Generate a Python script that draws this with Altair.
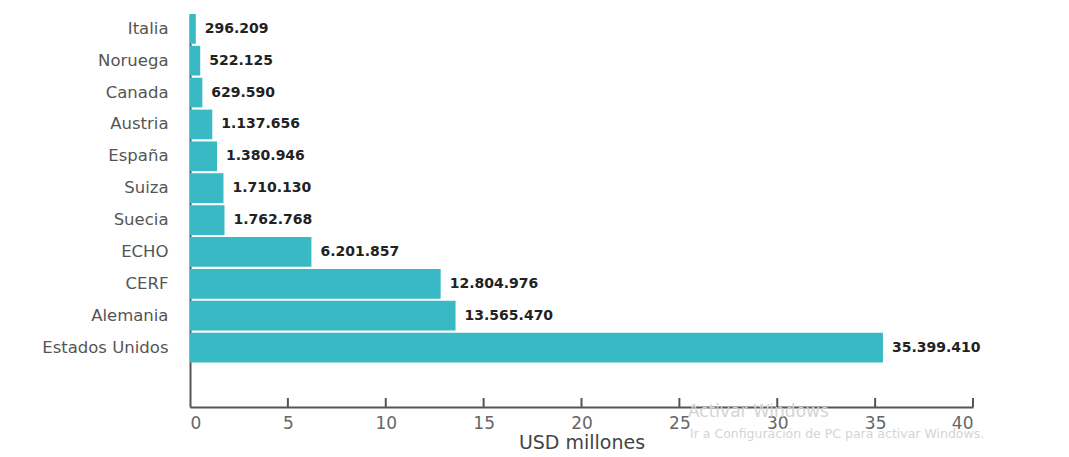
import altair as alt
import pandas as pd

paises = ["Italia", "Noruega", "Canada", "Austria", "España", "Suiza", "Suecia",
          "ECHO", "CERF", "Alemania", "Estados Unidos"]
valores = [296209, 522125, 629590, 1137656, 1380946, 1710130, 1762768,
           6201857, 12804976, 13565470, 35399410]
ticks = [0, 5, 10, 15, 20, 25, 30, 35, 40]

df = pd.DataFrame({
    "pais": paises,
    "valor": valores,
    "millones": [v / 1e6 for v in valores],
    "etiqueta": [f"{v:,}".replace(",", ".") for v in valores],
})

W, H = 783, 393
FONT = "DejaVu Sans"

xscale = alt.Scale(domain=[0, 40], nice=False)
yscale = alt.Scale(paddingInner=0.07, paddingOuter=0.7, align=0)

base = alt.Chart(df)

bars = base.mark_bar(color="#38B9C3").encode(
    x=alt.X("millones:Q", scale=xscale,
            axis=alt.Axis(values=ticks, title="USD millones", grid=False,
                          ticks=False, labelPadding=8, labelFontSize=17,
                          labelColor="#666666", labelFont=FONT,
                          titleFont=FONT, titleFontSize=19, titleFontWeight="normal",
                          titleColor="#444444", titlePadding=2,
                          domainColor="#555555", domainWidth=2)),
    y=alt.Y("pais:N", sort=paises, scale=yscale,
            axis=alt.Axis(title=None, ticks=False, labelPadding=22,
                          labelFontSize=16.5, labelColor="#555555", labelFont=FONT,
                          domainColor="#555555", domainWidth=2)),
)

text = base.mark_text(align="left", dx=9, fontSize=14, fontWeight="bold",
                      font=FONT, color="#222222").encode(
    x=alt.X("millones:Q", scale=xscale),
    y=alt.Y("pais:N", sort=paises, scale=yscale),
    text="etiqueta:N",
)

tick_rules = alt.Chart(pd.DataFrame({"t": ticks[1:]})).mark_rule(
    color="#555555", strokeWidth=2).encode(
    x=alt.X("t:Q", scale=xscale),
    y=alt.value(H - 9),
    y2=alt.value(H),
)

wm1 = alt.Chart(pd.DataFrame({"s": ["Activar Windows"]})).mark_text(
    align="left", baseline="middle", fontSize=17, font=FONT, color="#d4d4d4").encode(
    text="s:N", x=alt.value(498), y=alt.value(398))
wm2 = alt.Chart(pd.DataFrame({"s": ["Ir a Configuración de PC para activar Windows."]})).mark_text(
    align="left", baseline="middle", fontSize=12.5, font=FONT, color="#d4d4d4").encode(
    text="s:N", x=alt.value(500), y=alt.value(420))

chart = alt.layer(wm1, wm2, bars, text, tick_rules).properties(
    width=W, height=H,
    background="white",
    autosize=alt.AutoSizeParams(type="none"),
    padding={"left": 190, "top": 14, "right": 96, "bottom": 50},
).configure_view(strokeWidth=0, stroke="transparent")

chart.save("out.html", embed_options={"renderer": "svg", "actions": False})
